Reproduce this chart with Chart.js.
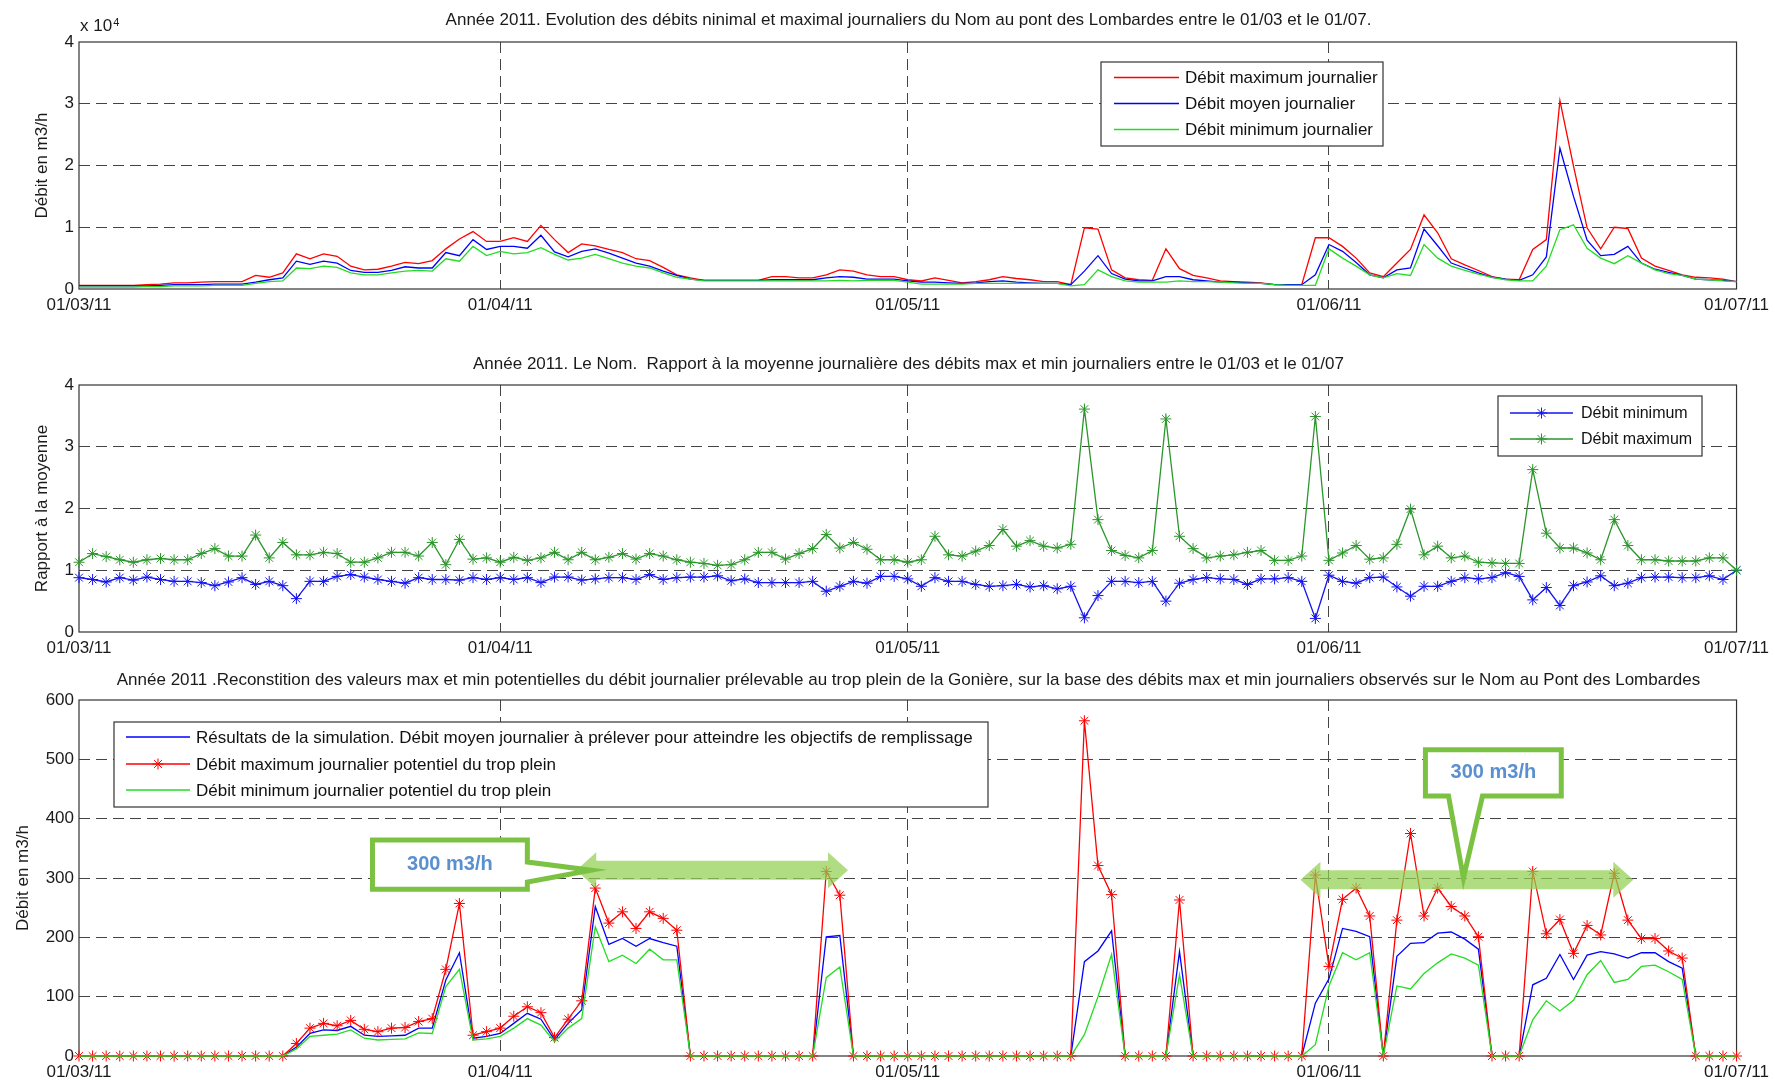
<!DOCTYPE html>
<html lang="fr">
<head>
<meta charset="utf-8">
<title>Le Nom 2011</title>
<script src="https://cdn.jsdelivr.net/npm/chart.js@4.4.0/dist/chart.umd.min.js"></script>
<style>
  body { margin: 0; background: #fff; }
  #page { position: relative; width: 1775px; height: 1089px; overflow: hidden;
          font-family: "Liberation Sans", Arial, sans-serif; color: #1a1a1a; }
  .panel { position: absolute; left: 0; width: 1775px; }
  .title { position: absolute; left: 79px; width: 1659px; text-align: center;
           font-size: 17px; line-height: 20px; white-space: pre; z-index: 2; }
  .pow { position: absolute; left: 80px; top: 16px; font-size: 17px; line-height: 20px; z-index: 2; }
  .pow sup { font-size: 11px; position: relative; top: -4px; left: 1px; vertical-align: top; }
</style>
</head>
<body>
<div id="page">
  <div class="title" style="top:10px">Année 2011. Evolution des débits ninimal et maximal journaliers du Nom au pont des Lombardes entre le 01/03 et le 01/07.</div>
  <div class="pow">x 10<sup>4</sup></div>
  <div class="panel" style="top:0;height:330px"><canvas id="chartFlow"></canvas></div>

  <div class="title" style="top:354px">Année 2011. Le Nom.  Rapport à la moyenne journalière des débits max et min journaliers entre le 01/03 et le 01/07</div>
  <div class="panel" style="top:340px;height:330px"><canvas id="chartRatio"></canvas></div>

  <div class="title" style="top:670px">Année 2011 .Reconstition des valeurs max et min potentielles du débit journalier prélevable au trop plein de la Gonière, sur la base des débits max et min journaliers observés sur le Nom au Pont des Lombardes</div>
  <div class="panel" style="top:670px;height:419px"><canvas id="chartTrop"></canvas></div>
</div>

<script>
// x axis: day number counted from 01/03/11
const tickDays = [0, 31, 61, 92, 122];
const tickLabels = ['01/03/11', '01/04/11', '01/05/11', '01/06/11', '01/07/11'];
const days = Array.from({ length: 123 }, (_, i) => i);

// --- top chart: daily flows at pont des Lombardes (m3/h)
const flowMax = [
  600, 600, 600, 600, 600, 700, 800,
  1000, 1000, 1100, 1200, 1200, 1200,
  2200, 1900, 2600, 5700, 4900, 5700, 5300,
  3700, 3100, 3200, 3700, 4300, 4100, 4600,
  6500, 8100, 9300, 7700, 7700, 8300, 7700,
  10300, 8000, 5900, 7300, 7000, 6400, 5900,
  4900, 4600, 3500, 2300, 1800, 1400, 1400,
  1400, 1400, 1400, 2000, 2000, 1800, 1800,
  2300, 3100, 2900, 2300, 2000, 2000, 1500,
  1300, 1800, 1400, 1000, 1200, 1500, 2000,
  1700, 1500, 1200, 1200, 700, 9900, 9700,
  3100, 1800, 1500, 1400, 6500, 3300, 2200,
  1800, 1300, 1200, 1100, 1000, 700, 700,
  700, 8300, 8300, 6900, 5000, 2600, 2000,
  4200, 6400, 12000, 9100, 4900, 3900, 3000,
  2000, 1600, 1500, 6400, 8000, 30500, 19900,
  9900, 6500, 10000, 9800, 5000, 3700, 3000,
  2300, 1900, 1800, 1600, 1200
];
const flowMean = [
  500, 500, 500, 500, 500, 500, 600,
  700, 700, 700, 800, 800, 800,
  1100, 1500, 1800, 4500, 4000, 4500, 4200,
  3000, 2700, 2700, 3000, 3600, 3400, 3400,
  5900, 5400, 8000, 6400, 6900, 6900, 6600,
  8700, 6000, 5200, 6100, 6500, 5800, 5000,
  4200, 3700, 2900, 2200, 1600, 1400, 1400,
  1400, 1400, 1400, 1500, 1500, 1500, 1500,
  1800, 2000, 1900, 1600, 1600, 1600, 1300,
  1100, 1100, 1000, 900, 1000, 1200, 1300,
  1100, 1000, 900, 900, 700, 2900, 5400,
  2500, 1600, 1300, 1300, 2000, 2000, 1500,
  1300, 1100, 1100, 1000, 900, 700, 700,
  700, 2300, 7200, 6100, 4300, 2300, 1800,
  3100, 3400, 9700, 7000, 4200, 3400, 2600,
  1900, 1600, 1400, 2300, 5200, 22800, 15000,
  7900, 5400, 5600, 6900, 4200, 3200, 2700,
  2200, 1600, 1500, 1400, 1200
];
const flowMin = [
  300, 300, 300, 300, 300, 400, 400,
  500, 500, 500, 600, 600, 600,
  900, 1200, 1300, 3400, 3300, 3700, 3500,
  2600, 2300, 2300, 2600, 2900, 3000, 2900,
  4900, 4500, 6900, 5400, 6100, 5700, 5900,
  6700, 5600, 4700, 5000, 5600, 4900, 4200,
  3700, 3400, 2600, 1900, 1600, 1300, 1300,
  1300, 1300, 1300, 1300, 1300, 1300, 1300,
  1300, 1400, 1300, 1400, 1400, 1400, 1100,
  800, 800, 800, 800, 900, 900, 900,
  900, 900, 900, 900, 500, 700, 3100,
  2000, 1300, 1100, 1100, 1100, 1300, 1200,
  1200, 1100, 1000, 900, 900, 700, 600,
  600, 600, 6500, 5000, 3700, 2300, 1800,
  2500, 2200, 7200, 5000, 3700, 3000, 2400,
  1900, 1500, 1300, 1300, 3700, 9600, 10400,
  6600, 5000, 4100, 5400, 4200, 3100, 2500,
  2200, 1600, 1500, 1300, 1200
];

// --- middle chart: ratio to the daily mean
const ratioMin = [
  0.88, 0.85, 0.81, 0.88, 0.84, 0.89, 0.85, 0.82, 0.82, 0.80,
  0.75, 0.81, 0.88, 0.77, 0.82, 0.75, 0.54, 0.82, 0.82, 0.90,
  0.93, 0.89, 0.85, 0.82, 0.79, 0.88, 0.85, 0.85, 0.84, 0.88,
  0.85, 0.88, 0.85, 0.88, 0.80, 0.89, 0.89, 0.84, 0.86, 0.88,
  0.88, 0.85, 0.93, 0.85, 0.88, 0.89, 0.89, 0.91, 0.83, 0.86,
  0.80, 0.80, 0.80, 0.80, 0.82, 0.66, 0.74, 0.82, 0.79, 0.90,
  0.90, 0.86, 0.74, 0.88, 0.82, 0.82, 0.77, 0.74, 0.75, 0.77,
  0.73, 0.75, 0.70, 0.74, 0.23, 0.59, 0.82, 0.82, 0.80, 0.82,
  0.50, 0.79, 0.85, 0.88, 0.86, 0.85, 0.77, 0.86, 0.86, 0.88,
  0.82, 0.22, 0.92, 0.82, 0.79, 0.88, 0.89, 0.73, 0.58, 0.74,
  0.74, 0.82, 0.88, 0.86, 0.88, 0.96, 0.90, 0.52, 0.72, 0.43,
  0.75, 0.81, 0.91, 0.75, 0.79, 0.88, 0.89, 0.89, 0.88, 0.88,
  0.91, 0.85, 1.00
];
const ratioMax = [
  1.13, 1.27, 1.22, 1.17, 1.13, 1.17, 1.19, 1.17, 1.17, 1.27,
  1.35, 1.23, 1.23, 1.57, 1.20, 1.45, 1.25, 1.25, 1.29, 1.27,
  1.13, 1.13, 1.20, 1.29, 1.29, 1.23, 1.45, 1.09, 1.50, 1.18,
  1.20, 1.13, 1.21, 1.16, 1.20, 1.29, 1.17, 1.29, 1.17, 1.21,
  1.27, 1.18, 1.27, 1.23, 1.17, 1.13, 1.11, 1.08, 1.09, 1.17,
  1.29, 1.29, 1.18, 1.27, 1.35, 1.58, 1.36, 1.45, 1.34, 1.17,
  1.17, 1.13, 1.17, 1.55, 1.25, 1.23, 1.31, 1.40, 1.66, 1.39,
  1.48, 1.39, 1.36, 1.42, 3.61, 1.82, 1.32, 1.24, 1.20, 1.32,
  3.45, 1.55, 1.35, 1.20, 1.23, 1.25, 1.29, 1.32, 1.16, 1.16,
  1.23, 3.49, 1.16, 1.28, 1.40, 1.18, 1.20, 1.42, 1.99, 1.25,
  1.39, 1.20, 1.23, 1.13, 1.12, 1.11, 1.11, 2.63, 1.60, 1.36,
  1.36, 1.28, 1.17, 1.82, 1.40, 1.17, 1.17, 1.15, 1.15, 1.15,
  1.20, 1.20, 1.00
];

// --- bottom chart: potential withdrawal at the overflow (m3/h)
const simMean = [
  0, 0, 0, 0, 0, 0, 0, 0, 0, 0, 0, 0, 0, 0, 0, 0,
  15, 38, 44, 43, 50, 35, 33, 34, 35, 47, 47,
  128, 174, 30, 33, 38, 55, 72, 62, 27, 55, 78,
  252, 188, 198, 185, 198, 191, 185,
  0, 0, 0, 0, 0, 0, 0, 0, 0, 0,
  201, 203,
  0, 0, 0, 0, 0, 0, 0, 0, 0, 0, 0, 0, 0, 0, 0, 0, 0,
  159, 177, 211,
  0, 0, 0, 0,
  176,
  0, 0, 0, 0, 0, 0, 0, 0, 0,
  89, 130, 215, 210, 201,
  0,
  168, 190, 191, 207, 209, 197, 180,
  0, 0, 0,
  120, 131, 171, 129, 170, 176, 172, 165, 174, 174, 159, 148,
  0, 0, 0, 0
];
const potMax = [
  0, 0, 0, 0, 0, 0, 0, 0, 0, 0, 0, 0, 0, 0, 0, 0,
  21, 47, 55, 51, 60, 45, 41, 47, 48, 58, 63,
  146, 257, 35, 41, 47, 67, 83, 73, 31, 62, 93,
  283, 224, 243, 215, 243, 232, 212,
  0, 0, 0, 0, 0, 0, 0, 0, 0, 0,
  311, 271,
  0, 0, 0, 0, 0, 0, 0, 0, 0, 0, 0, 0, 0, 0, 0, 0, 0,
  565, 321, 272,
  0, 0, 0, 0,
  263,
  0, 0, 0, 0, 0, 0, 0, 0, 0,
  305, 151, 264, 283, 236,
  0,
  229, 375, 236, 283, 252, 236, 201,
  0, 0, 0,
  311, 206, 230, 173, 220, 204, 308, 229, 198, 198, 177, 165,
  0, 0, 0, 0
];
const potMin = [
  0, 0, 0, 0, 0, 0, 0, 0, 0, 0, 0, 0, 0, 0, 0, 0,
  12, 33, 35, 37, 44, 30, 27, 28, 29, 39, 38,
  117, 146, 27, 29, 33, 47, 63, 52, 24, 47, 63,
  218, 159, 170, 156, 180, 162, 162,
  0, 0, 0, 0, 0, 0, 0, 0, 0, 0,
  132, 150,
  0, 0, 0, 0, 0, 0, 0, 0, 0, 0, 0, 0, 0, 0, 0, 0, 0,
  36, 100, 171,
  0, 0, 0, 0,
  137,
  0, 0, 0, 0, 0, 0, 0, 0, 0,
  19, 118, 174, 162, 174,
  0,
  118, 113, 139, 157, 172, 165, 153,
  0, 0, 0,
  61, 93, 76, 94, 137, 161, 124, 129, 151, 153, 142, 129,
  0, 0, 0, 0
];

Chart.defaults.font.family = '"Liberation Sans", Arial, sans-serif';
Chart.defaults.font.size = 17;
Chart.defaults.color = '#1a1a1a';

const GRID = '#444';
const DASH = [11, 6];

function drawStar(ctx, x, y, r, color) {
  const d = r * Math.SQRT1_2;
  ctx.save();
  ctx.strokeStyle = color;
  ctx.lineWidth = 1;
  ctx.beginPath();
  ctx.moveTo(x - r, y); ctx.lineTo(x + r, y);
  ctx.moveTo(x, y - r); ctx.lineTo(x, y + r);
  ctx.moveTo(x - d, y - d); ctx.lineTo(x + d, y + d);
  ctx.moveTo(x - d, y + d); ctx.lineTo(x + d, y - d);
  ctx.stroke();
  ctx.restore();
}

// axes box, drawn under the data like matlab
const axesBox = {
  id: 'axesBox',
  beforeDatasetsDraw(chart) {
    const { ctx, chartArea: a } = chart;
    ctx.save();
    ctx.strokeStyle = '#333';
    ctx.lineWidth = 1.2;
    ctx.strokeRect(a.left, a.top, a.right - a.left, a.bottom - a.top);
    ctx.restore();
  }
};

// matlab style legend box, position in canvas pixels
function boxLegend(cfg) {
  return {
    id: 'boxLegend',
    afterDraw(chart) {
      const ctx = chart.ctx;
      ctx.save();
      ctx.fillStyle = '#fff';
      ctx.fillRect(cfg.x, cfg.y, cfg.w, cfg.h);
      ctx.strokeStyle = '#333';
      ctx.lineWidth = 1.2;
      ctx.strokeRect(cfg.x, cfg.y, cfg.w, cfg.h);
      ctx.font = (cfg.size || 17) + 'px "Liberation Sans", Arial, sans-serif';
      ctx.textBaseline = 'middle';
      cfg.items.forEach((idx, i) => {
        const ds = chart.data.datasets[idx];
        const y = cfg.y + cfg.rows[i];
        ctx.strokeStyle = ds.borderColor;
        ctx.lineWidth = ds.borderWidth;
        ctx.beginPath();
        ctx.moveTo(cfg.x1, y);
        ctx.lineTo(cfg.x2, y);
        ctx.stroke();
        if (ds.pointRadius > 0) drawStar(ctx, (cfg.x1 + cfg.x2) / 2, y, ds.pointRadius, ds.borderColor);
        ctx.fillStyle = '#111';
        ctx.fillText(ds.label, cfg.tx, y + 1);
      });
      ctx.restore();
    }
  };
}

function xScale(height) {
  return {
    type: 'linear', min: 0, max: 122,
    afterBuildTicks: s => { s.ticks = tickDays.map(v => ({ value: v })); },
    afterFit: s => { s.height = height; },
    ticks: {
      autoSkip: false, maxRotation: 0, padding: 6,
      callback: v => { const i = tickDays.indexOf(v); return i >= 0 ? tickLabels[i] : ''; }
    },
    grid: {
      drawTicks: false, lineWidth: 1,
      color: c => (c.index === 0 || c.index === tickDays.length - 1) ? 'rgba(0,0,0,0)' : GRID
    },
    border: { display: false, dash: DASH }
  };
}

function yScale(max, step, title, titlePad, fmt) {
  return {
    min: 0, max: max,
    afterFit: s => { s.width = 79; },
    ticks: { stepSize: step, padding: 5, callback: fmt || (v => v) },
    grid: {
      drawTicks: false, lineWidth: 1,
      color: c => (c.index === 0 || c.index === Math.round(max / step)) ? 'rgba(0,0,0,0)' : GRID
    },
    border: { display: false, dash: DASH },
    title: { display: true, text: title, padding: { top: titlePad, bottom: 0 }, font: { size: 17 } }
  };
}

function lineSet(label, data, color, order, star) {
  return {
    label: label, data: data,
    borderColor: color, backgroundColor: color,
    borderWidth: 1.3, tension: 0, order: order, clip: 10,
    pointStyle: 'star', pointRadius: star ? 5.5 : 0, pointBorderWidth: 1,
    pointBorderColor: color, pointHoverRadius: 0
  };
}

function baseOptions(top, scales) {
  return {
    responsive: true, maintainAspectRatio: false, animation: false, events: [],
    layout: { padding: { top: top, right: 37, left: 0, bottom: 0 } },
    plugins: { legend: { display: false }, tooltip: { enabled: false } },
    scales: scales
  };
}

// top: debits journaliers
new Chart(document.getElementById('chartFlow'), {
  type: 'line',
  data: {
    labels: days,
    datasets: [
      lineSet('Débit maximum journalier', flowMax, '#ff0000', 2, false),
      lineSet('Débit moyen journalier', flowMean, '#0000ff', 1, false),
      lineSet('Débit minimum journalier', flowMin, '#22dd22', 0, false)
    ]
  },
  options: baseOptions(42, {
    x: xScale(41),
    y: yScale(40000, 10000, 'Débit en m3/h', 32, v => v / 10000)
  }),
  plugins: [axesBox, boxLegend({ x: 1101, y: 62, w: 282, h: 84, rows: [15.5, 41.5, 67.5], x1: 1114, x2: 1179, tx: 1185, items: [0, 1, 2] })]
});

// middle: rapport a la moyenne
new Chart(document.getElementById('chartRatio'), {
  type: 'line',
  data: {
    labels: days,
    datasets: [
      lineSet('Débit minimum', ratioMin, '#1414f0', 1, true),
      lineSet('Débit maximum', ratioMax, '#2b962b', 0, true)
    ]
  },
  options: baseOptions(45, {
    x: xScale(38),
    y: yScale(4, 1, 'Rapport à la moyenne', 32)
  }),
  plugins: [axesBox, boxLegend({ x: 1498, y: 56, w: 204, h: 60, rows: [17, 43], x1: 1510, x2: 1573, tx: 1581, size: 16, items: [0, 1] })]
});

// green callouts and arrows on the bottom chart, placed in data units
const callouts = {
  id: 'callouts',
  afterDatasetsDraw(chart) {
    const { ctx, scales: { x, y } } = chart;
    const px = d => x.getPixelForValue(d);
    const py = v => y.getPixelForValue(v);

    const arrows = [
      { from: 36.6, to: 56.6, at: 313 },
      { from: 89.9, to: 114.4, at: 297 }
    ];
    ctx.save();
    ctx.fillStyle = 'rgba(146, 208, 80, 0.72)';
    arrows.forEach(a => {
      const x1 = px(a.from), x2 = px(a.to), yc = py(a.at);
      const hl = 20, hh = 18, sh = 9.5;
      ctx.beginPath();
      ctx.moveTo(x1, yc);
      ctx.lineTo(x1 + hl, yc - hh); ctx.lineTo(x1 + hl, yc - sh);
      ctx.lineTo(x2 - hl, yc - sh); ctx.lineTo(x2 - hl, yc - hh);
      ctx.lineTo(x2, yc);
      ctx.lineTo(x2 - hl, yc + hh); ctx.lineTo(x2 - hl, yc + sh);
      ctx.lineTo(x1 + hl, yc + sh); ctx.lineTo(x1 + hl, yc + hh);
      ctx.closePath();
      ctx.fill();
    });

    ctx.lineWidth = 5;
    ctx.lineJoin = 'miter';
    ctx.strokeStyle = '#7cc242';
    ctx.fillStyle = '#fff';

    // callout with tail to the right
    let L = px(21.6), R = px(33.0), T = py(364), B = py(281);
    ctx.beginPath();
    ctx.moveTo(L, T); ctx.lineTo(R, T);
    ctx.lineTo(R, py(327)); ctx.lineTo(px(37.7), py(313)); ctx.lineTo(R, py(293));
    ctx.lineTo(R, B); ctx.lineTo(L, B); ctx.closePath();
    ctx.fill(); ctx.stroke();
    const c1 = [(L + R) / 2, (T + B) / 2];

    // callout with tail pointing down
    L = px(99.1); R = px(109.1); T = py(516); B = py(438);
    ctx.beginPath();
    ctx.moveTo(L, T); ctx.lineTo(R, T); ctx.lineTo(R, B);
    ctx.lineTo(px(103.3), B); ctx.lineTo(px(101.9), py(300)); ctx.lineTo(px(100.8), B);
    ctx.lineTo(L, B); ctx.closePath();
    ctx.fill(); ctx.stroke();
    const c2 = [(L + R) / 2, (T + B) / 2];

    ctx.fillStyle = '#5a8fd0';
    ctx.font = 'bold 20px "Liberation Sans", Arial, sans-serif';
    ctx.textAlign = 'center';
    ctx.textBaseline = 'middle';
    ctx.fillText('300 m3/h', c1[0], c1[1]);
    ctx.fillText('300 m3/h', c2[0], c2[1]);
    ctx.restore();
  }
};

// bottom: trop plein de la Gonière
new Chart(document.getElementById('chartTrop'), {
  type: 'line',
  data: {
    labels: days,
    datasets: [
      lineSet('Résultats de la simulation. Débit moyen journalier à prélever pour atteindre les objectifs de remplissage', simMean, '#0000ff', 2, false),
      lineSet('Débit maximum journalier potentiel du trop plein', potMax, '#ff0000', 1, true),
      lineSet('Débit minimum journalier potentiel du trop plein', potMin, '#22dd22', 0, false)
    ]
  },
  options: baseOptions(30, {
    x: xScale(33),
    y: yScale(600, 100, 'Débit en m3/h', 13)
  }),
  plugins: [axesBox, callouts, boxLegend({ x: 114, y: 52, w: 874, h: 85, rows: [15, 42, 68], x1: 126, x2: 190, tx: 196, items: [0, 1, 2] })]
});
</script>
</body>
</html>
